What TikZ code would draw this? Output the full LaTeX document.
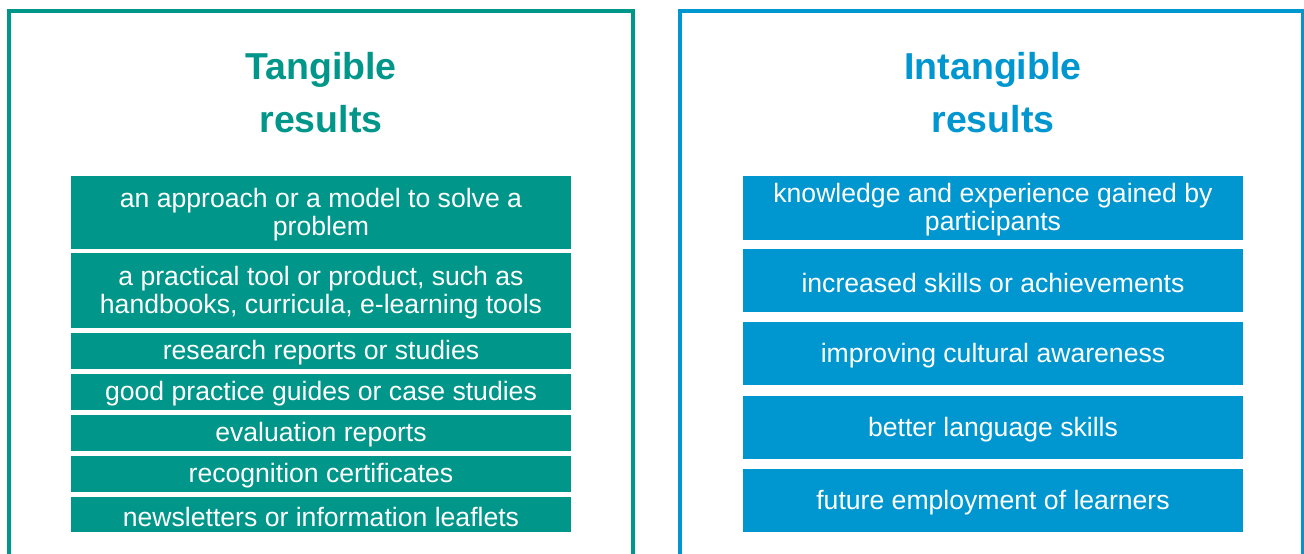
\documentclass[tikz,border=0pt]{standalone}
\usepackage{fontspec}
\setmainfont{Liberation Sans}
\definecolor{teal1}{HTML}{00968A}
\definecolor{blue1}{HTML}{0096CF}
\newcommand{\bxtext}[1]{\raisebox{-2pt}[\height][\depth]{\parbox{496pt}{\centering\fontsize{26.6}{28}\selectfont #1}}}
\begin{document}
\begin{tikzpicture}[x=1pt,y=-1pt,
  frame/.style={line width=4pt},
  title/.style={anchor=base,font=\bfseries\fontsize{37.5}{40}\selectfont,inner sep=0pt},
  boxbase/.style={text=white,minimum width=500pt,inner sep=0pt},
  tbox/.style={boxbase,fill=teal1},
  ibox/.style={boxbase,fill=blue1}]
\useasboundingbox (0,0) rectangle (1304,554);
\draw[frame,teal1] (9,570) -- (9,11) -- (633,11) -- (633,570);
\draw[frame,blue1] (680,570) -- (680,11) -- (1303,11) -- (1303,570);
\node[title,text=teal1] (t1) at (321,79) {Tangible};
\node[title,text=teal1] (t2) at (321,132) {results};
\node[title,text=blue1] (i1) at (993,79) {Intangible};
\node[title,text=blue1] (i2) at (993,132) {results};
\node[tbox,minimum height=73pt] (a1) at (321,212.5) {\bxtext{an approach or a model to solve a\\problem}};
\node[tbox,minimum height=75pt] (a2) at (321,290.5) {\bxtext{a practical tool or product, such as\\handbooks, curricula, e-learning tools}};
\node[tbox,minimum height=36pt] (a3) at (321,351) {\bxtext{research reports or studies}};
\node[tbox,minimum height=36pt] (a4) at (321,392) {\bxtext{good practice guides or case studies}};
\node[tbox,minimum height=36pt] (a5) at (321,433) {\bxtext{evaluation reports}};
\node[tbox,minimum height=36pt] (a6) at (321,474) {\bxtext{recognition certificates}};
\node[tbox,minimum height=35pt] (a7) at (321,514.5) {\bxtext{newsletters or information leaflets}};
\node[ibox,minimum height=64pt] (b1) at (993,208) {\bxtext{knowledge and experience gained by\\participants}};
\node[ibox,minimum height=63pt] (b2) at (993,280.5) {\bxtext{increased skills or achievements}};
\node[ibox,minimum height=63pt] (b3) at (993,353.5) {\bxtext{improving cultural awareness}};
\node[ibox,minimum height=63pt] (b4) at (993,427.5) {\bxtext{better language skills}};
\node[ibox,minimum height=63pt] (b5) at (993,500.5) {\bxtext{future employment of learners}};
\end{tikzpicture}
\end{document}
